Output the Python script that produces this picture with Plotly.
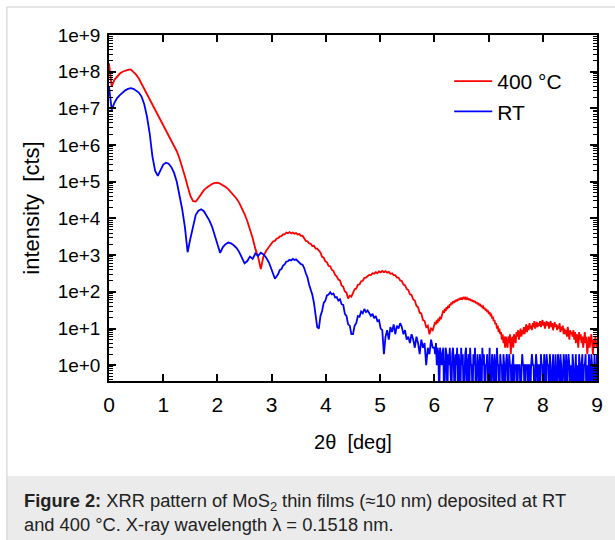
import plotly.graph_objects as go

# measurement grid (deg 2theta): 0.05 step below 3 deg, 0.03 step 3-6 deg, 0.015 step 6-9 deg
two_theta = ([round(0.05 * i, 3) for i in range(60)]
             + [round(3.0 + 0.03 * i, 3) for i in range(100)]
             + [round(6.0 + 0.015 * i, 3) for i in range(201)])

# 400 °C film, counts
intensity_400C = [
    # 0.00 - 2.95 (step 0.05)
    1.7e8, 4.0e7, 6.0e7, 7.6e7, 8.9e7, 1.0e8, 1.07e8, 1.12e8, 1.15e8, 9.8e7,
    8.3e7, 6.5e7, 4.7e7, 3.5e7, 2.5e7, 1.86e7, 1.32e7, 9.3e6, 6.8e6, 5.0e6,
    3.6e6, 2.6e6, 1.9e6, 1.38e6, 9.8e5, 6.8e5, 4.3e5, 2.6e5, 1.41e5, 7.6e4,
    4.2e4, 2.95e4, 2.9e4, 3.6e4, 4.7e4, 5.9e4, 6.9e4, 7.9e4, 8.7e4, 9.3e4,
    9.4e4, 8.9e4, 8.1e4, 7.2e4, 6.3e4, 5.2e4, 4.4e4, 3.5e4, 2.7e4, 1.95e4,
    1.32e4, 8.5e3, 5.0e3, 2.9e3, 1480, 890, 420, 950, 1320, 1740,
    # 3.00 - 5.97 (step 0.03)
    2100, 2400, 2450, 2800, 2900, 3250, 3300, 3700, 3700, 4100,
    3950, 4250, 3900, 4150, 3850, 4000, 3650, 3750, 3350, 3400,
    2900, 2450, 2400, 2100, 2050, 1780, 1800, 1500, 1500, 1300,
    1180, 900, 850, 680, 640, 510, 500, 400, 370, 290,
    265, 215, 205, 150, 138, 102, 95, 66, 78, 74,
    90, 118, 122, 156, 160, 195, 200, 240, 245, 275,
    290, 285, 320, 312, 345, 325, 360, 340, 370, 345,
    365, 335, 350, 310, 320, 285, 285, 245, 245, 205,
    198, 158, 150, 120, 112, 86, 82, 62, 58, 42,
    38, 27, 26, 17, 16, 11, 12, 7, 10, 9,
    # 6.000 - 9.000 (step 0.015)
    12, 15, 13, 17, 14, 19, 16, 21, 18, 23,
    25, 31, 27, 35, 30, 38, 34, 42, 37, 46,
    43, 51, 46, 55, 50, 58, 53, 62, 56, 64,
    59, 68, 61, 70, 62, 67, 72, 63, 69, 64,
    68, 61, 66, 59, 64, 57, 62, 54, 59, 52,
    56, 49, 53, 46, 50, 43, 47, 40, 44, 38,
    40, 34, 37, 31, 34, 28, 31, 25, 28, 23,
    24, 19, 21, 16, 17, 13, 14, 10, 12, 8,
    10, 7, 8, 5, 7, 4, 6, 3, 6, 4,
    3, 6, 4, 7, 2, 5, 6, 3, 7, 5,
    4, 8, 6, 9, 5, 7, 10, 6, 9, 7,
    11, 7, 10, 13, 8, 12, 9, 14, 10, 12,
    9, 14, 11, 16, 10, 13, 15, 11, 14, 12,
    16, 11, 14, 17, 12, 15, 10, 14, 16, 12,
    15, 10, 13, 16, 11, 14, 9, 13, 15, 11,
    13, 9, 12, 10, 14, 8, 11, 9, 12, 7,
    10, 7, 9, 6, 11, 8, 5, 9, 7, 8,
    6, 9, 5, 8, 4, 7, 6, 3, 8, 5,
    7, 4, 6, 3, 5, 8, 4, 6, 2, 5,
    6, 3, 5, 7, 4, 2, 5, 3, 6, 4,
    3,
]

# RT film, counts
intensity_RT = [
    # 0.00 - 2.95 (step 0.05)
    3.9e7, 9.3e6, 1.41e7, 1.9e7, 2.3e7, 2.75e7, 3.1e7, 3.4e7, 3.55e7, 3.4e7,
    3.1e7, 2.7e7, 2.1e7, 1.3e7, 6.0e6, 2.1e6, 5.0e5, 2.0e5, 1.45e5, 2.2e5,
    2.95e5, 3.3e5, 3.1e5, 2.5e5, 1.74e5, 1.0e5, 4.6e4, 1.78e4, 5.8e3, 1.2e3,
    2.8e3, 6.6e3, 1.26e4, 1.62e4, 1.78e4, 1.58e4, 1.23e4, 8.9e3, 6.0e3, 3.6e3,
    1.9e3, 1.15e3, 1.66e3, 2.0e3, 2.2e3, 2.1e3, 1.86e3, 1.58e3, 1.23e3, 850,
    600, 690, 910, 790, 1120, 950, 1170, 1050, 850, 630,
    # 3.00 - 5.97 (step 0.03)
    395, 290, 230, 262, 305, 395, 415, 520, 560, 665,
    680, 745, 720, 790, 735, 770, 690, 660, 570, 550,
    445, 320, 250, 158, 120, 83, 50, 26, 11, 10,
    22, 30, 50, 58, 80, 84, 97, 85, 90, 70,
    72, 58, 63, 46, 44, 25, 22, 13, 12, 7,
    7, 12, 14, 22, 21, 29, 26, 34, 28, 31,
    27, 22, 25, 19, 22, 16, 17, 10, 9, 2,
    6, 9, 5, 11, 8, 13, 7, 12, 10, 14,
    11, 7, 9, 5, 6, 4, 7, 5, 3, 6,
    4, 2, 5, 3, 4, 1, 3, 2, 5, 3,
    # 6.000 - 9.000 (step 0.015)
    3, 2, 4, 1, 3, 2, 0, 3, 2, 1,
    2, 3, 0, 1, 3, 2, 0, 2, 1, 3,
    1, 0, 2, 3, 1, 0, 2, 1, 3, 0,
    2, 1, 0, 3, 1, 2, 0, 1, 2, 3,
    0, 1, 2, 0, 3, 1, 1, 0, 2, 1,
    3, 0, 1, 2, 1, 0, 2, 1, 0, 3,
    1, 2, 0, 1, 1, 2, 0, 1, 3, 0,
    1, 2, 1, 0, 2, 1, 0, 3, 1, 1,
    0, 2, 1, 1, 0, 2, 1, 0, 1, 2,
    1, 0, 2, 1, 1, 0, 1, 2, 0, 1,
    1, 1, 0, 1, 1, 1, 0, 1, 2, 1,
    1, 0, 1, 1, 1, 0, 1, 1, 0, 1,
    2, 1, 1, 0, 1, 2, 1, 0, 1, 1,
    0, 2, 1, 1, 0, 2, 1, 0, 2, 1,
    1, 0, 2, 1, 0, 1, 2, 0, 1, 2,
    0, 1, 2, 1, 0, 2, 1, 0, 1, 2,
    1, 0, 2, 0, 1, 2, 1, 0, 1, 0,
    2, 1, 0, 1, 2, 0, 1, 0, 2, 1,
    0, 1, 2, 0, 1, 1, 2, 0, 1, 0,
    2, 1, 0, 2, 1, 0, 1, 2, 0, 1,
    2,
]

series_names = ["400 °C", "RT"]
series_colors = ["#ff0000", "#0000ff"]

y_tick_vals = [1e0, 1e1, 1e2, 1e3, 1e4, 1e5, 1e6, 1e7, 1e8, 1e9]
y_tick_text = ["1e+0", "1e+1", "1e+2", "1e+3", "1e+4", "1e+5", "1e+6", "1e+7", "1e+8", "1e+9"]
x_tick_vals = [0, 1, 2, 3, 4, 5, 6, 7, 8, 9]
y_minor_vals = [k * 10.0 ** n for n in range(-1, 9) for k in range(2, 10)]

caption = ("<b>Figure 2:</b> XRR pattern of MoS<sub>2</sub> thin films (≈10 nm) deposited at RT"
           "<br>and 400 °C. X-ray wavelength λ = 0.1518 nm.")

FONT = "Arial, Liberation Sans, Helvetica, sans-serif"

# zero counts are drawn at a floor below the axis range (clipped by the axis)
rt_plot = [v if v > 0 else 0.1 for v in intensity_RT]
red_plot = [v if v > 0 else 0.1 for v in intensity_400C]

fig = go.Figure()
fig.add_trace(go.Scatter(x=two_theta, y=red_plot, mode="lines", name=series_names[0],
                         line=dict(color=series_colors[0], width=1.8)))
fig.add_trace(go.Scatter(x=two_theta, y=rt_plot, mode="lines", name=series_names[1],
                         line=dict(color=series_colors[1], width=1.8)))

L, R, T, B = 109, 14, 35, 159
W, H = 615, 540
pw, ph = W - L - R, H - T - B

def px(x):
    return (x - L) / pw

def py(y):
    return (H - B - y) / ph

fig.update_layout(
    width=W, height=H,
    margin=dict(l=L, r=R, t=T, b=B, pad=0),
    paper_bgcolor="white", plot_bgcolor="white",
    font=dict(family=FONT, color="black"),
    showlegend=True,
    legend=dict(x=px(452), y=py(61), xanchor="left", yanchor="top",
                font=dict(size=21, family=FONT, color="black"),
                itemwidth=38,
                bgcolor="rgba(0,0,0,0)", borderwidth=0, tracegroupgap=0),
    xaxis=dict(range=[0, 9], tickmode="array", tickvals=x_tick_vals,
               ticks="inside", ticklen=7, tickwidth=1.5, tickcolor="black",
               showline=True, linecolor="black", linewidth=1.5, mirror="ticks",
               showgrid=False, zeroline=False, ticklabelstandoff=4,
               tickfont=dict(size=21, family=FONT, color="black"),
               title=dict(text="2θ\u00a0 [deg]", font=dict(size=20, family=FONT, color="black"),
                          standoff=20)),
    yaxis=dict(type="log", range=[-0.43, 9], tickmode="array",
               tickvals=y_tick_vals, ticktext=y_tick_text,
               ticks="inside", ticklen=7, tickwidth=1.5, tickcolor="black",
               minor=dict(tickvals=y_minor_vals, ticks="inside", ticklen=4,
                          tickwidth=1, tickcolor="black", showgrid=False),
               showline=True, linecolor="black", linewidth=1.5, mirror="ticks",
               showgrid=False, zeroline=False, ticklabelstandoff=3,
               tickfont=dict(size=19, family=FONT, color="black"),
               title=dict(text="intensity\u00a0 [cts]", font=dict(size=22, family=FONT, color="black"),
                          standoff=12)),
    shapes=[
        dict(type="rect", xref="paper", yref="paper", x0=px(6), x1=px(622), y0=py(476), y1=py(546),
             fillcolor="#ebebeb", line=dict(width=0), layer="below"),
        dict(type="line", xref="paper", yref="paper", x0=px(6), x1=px(622), y0=py(7), y1=py(7),
             line=dict(color="#dcdcdc", width=1.5)),
        dict(type="line", xref="paper", yref="paper", x0=px(6), x1=px(6), y0=py(7), y1=py(546),
             line=dict(color="#dcdcdc", width=1.5)),
    ],
    annotations=[
        dict(text=caption, xref="paper", yref="paper", x=px(21), y=py(488),
             xanchor="left", yanchor="top", align="left", showarrow=False,
             font=dict(size=18.3, family=FONT, color="#222222")),
    ],
)

fig.write_html("out.html")
